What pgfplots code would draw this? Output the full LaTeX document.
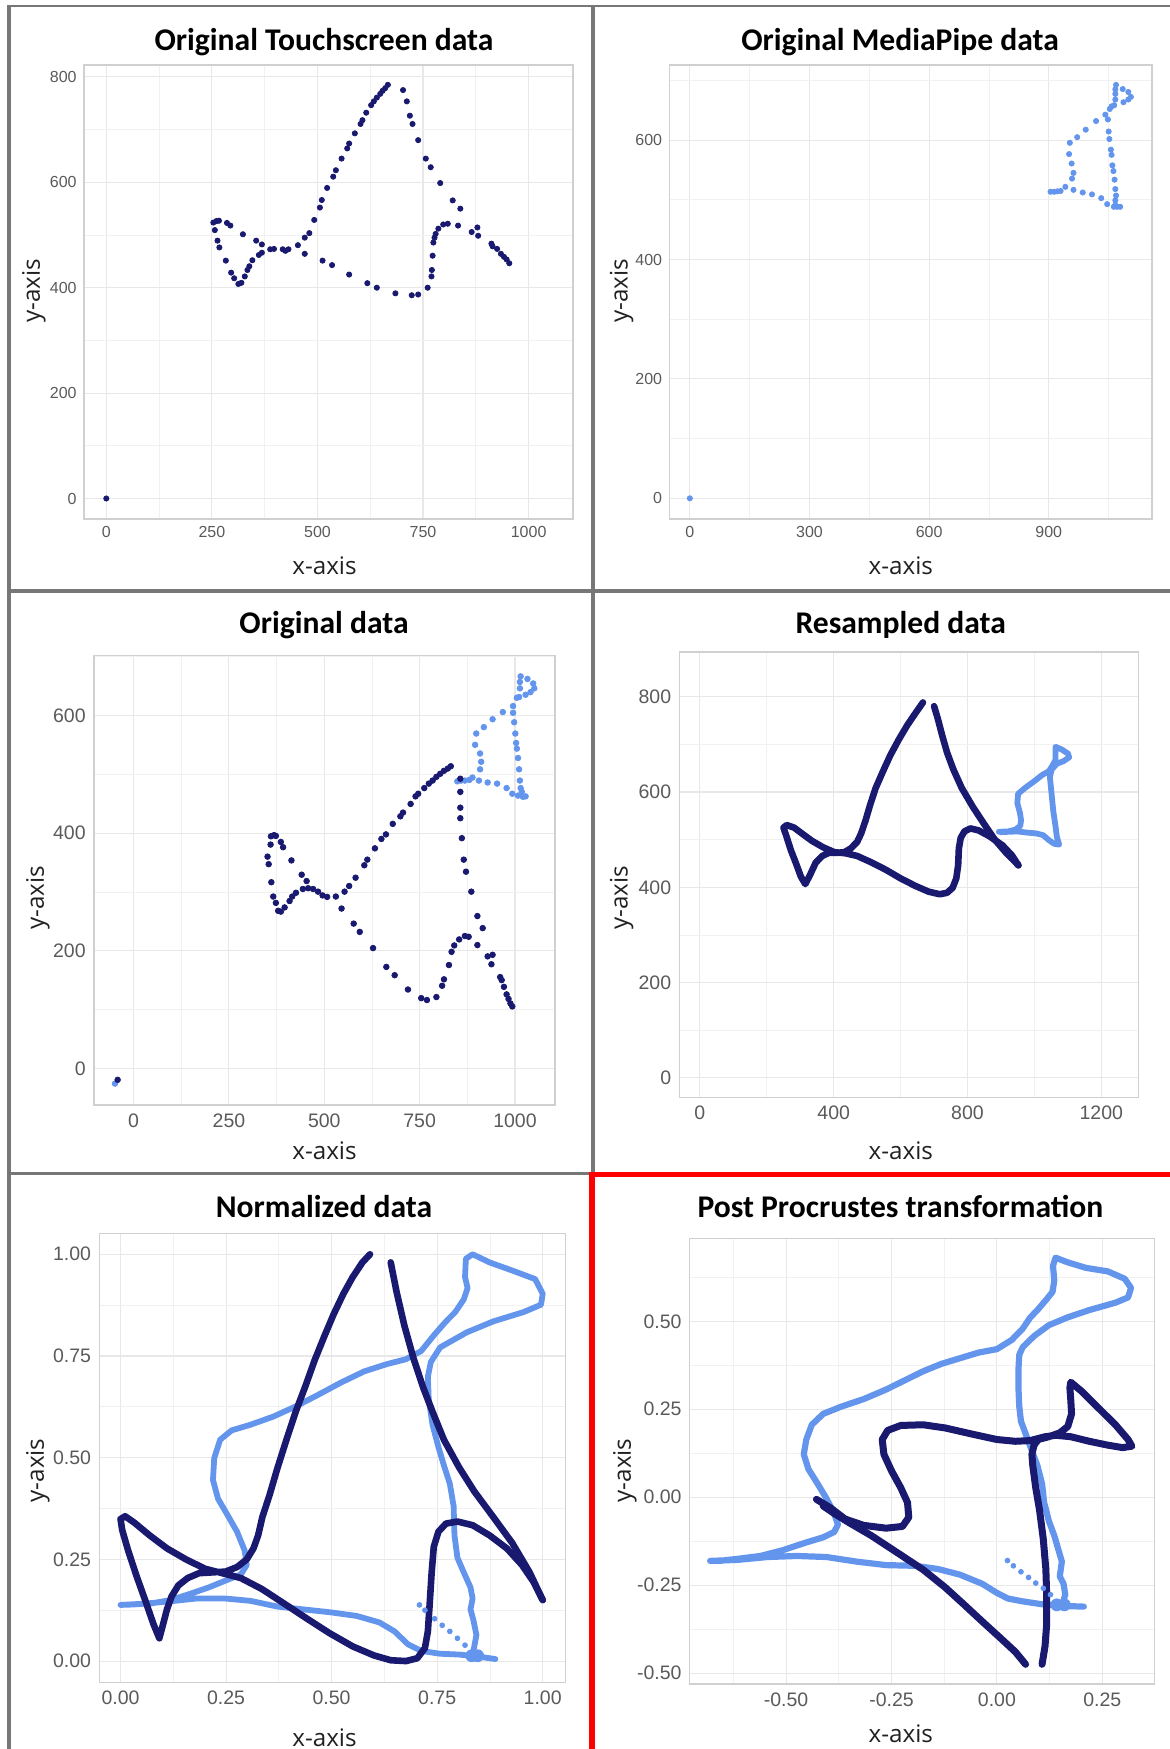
\documentclass[border=0pt]{standalone}
\usepackage{pgfplots}
\pgfplotsset{compat=1.18}
\usepackage{fontspec}
\setmainfont{Carlito}
\newfontfamily\labfont{Open Sans}
\newfontfamily\tickfont{Liberation Sans}
\definecolor{navy}{HTML}{191970}
\definecolor{cblue}{HTML}{6495ED}
\definecolor{gridmajor}{HTML}{E8E8E8}
\definecolor{gridminor}{HTML}{F1F1F1}
\definecolor{bordergray}{HTML}{D0D0D0}
\definecolor{tickgray}{HTML}{5A5A5A}
\definecolor{framegray}{HTML}{777777}
\pgfplotsset{
 panel/.style={scale only axis, anchor=south west, axis lines=box,
   axis line style={draw=bordergray,line width=0.55pt},
   grid=both, major grid style={draw=gridmajor,line width=0.55pt},
   minor grid style={draw=gridminor,line width=0.4pt},
   major tick length=0pt, minor tick length=0pt, tick style={draw=none}, clip=true},
 toprow/.style={
   xticklabel style={font=\tickfont\fontsize{8}{9}\selectfont, text=tickgray, inner sep=0pt, anchor=center, yshift=-6.3pt},
   yticklabel style={font=\tickfont\fontsize{8}{9}\selectfont, text=tickgray, inner sep=0pt, anchor=east, xshift=-3.5pt}},
 lowrow/.style={
   xticklabel style={font=\tickfont\fontsize{9.75}{11}\selectfont, text=tickgray, inner sep=0pt, anchor=center, yshift=-7.75pt},
   yticklabel style={font=\tickfont\fontsize{9.75}{11}\selectfont, text=tickgray, inner sep=0pt, anchor=east, xshift=-4pt}},
 dots/.style={only marks, mark=*, mark size=1.3pt},
 darkline/.style={navy, no marks, line width=3.3pt, line join=round, line cap=round},
 lightline/.style={cblue, no marks, line width=2.9pt, line join=round, line cap=round},
}
\begin{document}
\begin{tikzpicture}
\useasboundingbox (0,0) rectangle (585pt,-874.5pt);

% ---------- Panel 1: Original Touchscreen data
\begin{axis}[panel, toprow, at={(42pt,-259.5pt)}, width=244.5pt, height=227pt,
  xmin=-52.8, xmax=1105.1, ymin=-38.9, ymax=822.6,
  xtick={0,250,500,750,1000}, xticklabels={0,250,500,750,1000},
  minor xtick={125,375,625,875},
  ytick={0,200,400,600,800}, yticklabels={0,200,400,600,800},
  minor ytick={100,300,500,700}]
\addplot[dots, navy] coordinates {
(0,0)
(253.4,523.6)(260.6,526.4)(266.8,527.1)(257.0,509.3)(263.3,489.3)(267.7,476.4)(283.0,451.4)(295.6,428.6)(302.8,417.9)(312.7,407.1)(319.9,409.3)(327.9,421.4)(334.2,433.6)(338.7,440.7)(345.9,452.1)(361.2,462.1)(368.4,466.4)
(285.7,522.9)(293.8,517.9)(323.5,501.4)(354.9,489.3)(368.4,482.1)
(388.1,472.9)(397.1,473.6)(417.8,472.9)(424.1,470.0)(431.3,472.9)
(453.7,480.7)(469.9,495)(480.7,503.6)(492.4,528.6)(505.8,552.1)(510.3,566.4)(522.9,589.3)(537.3,610.7)(543.6,622.9)(557.1,645)(570.5,664.3)(575.0,673.6)(588.5,692.9)(602.0,710.7)(606.5,717.9)(615.5,732.1)(627.1,746.4)(633.4,753.6)(640.6,760.7)(648.7,767.9)(654.1,773.6)(660.4,778.6)(666.7,785)
(702.6,775)(711.6,753.6)(718.8,726.4)(725.1,710.7)(738.5,680)(756.5,645)(768.2,628.6)(790.7,598.6)(820.3,565.7)(838.3,550)
(469.9,464.3)(512.1,451.4)(534.6,442.9)(575.0,425)(618.1,408.6)(640.6,400)(684.6,389.3)(723.3,385.7)(738.5,387.1)(761.0,400)(770.0,421.4)(770.9,433.6)(772.7,460.7)(774.5,485.7)(777.2,495)(779.9,502.1)(786.2,512.1)(797.8,520)(808.6,521.4)(832.9,517.9)(865.2,505.7)(878.7,514.3)(880.5,498.6)(911.9,483.6)(914.6,478.6)(925.4,473.6)(934.4,464.3)(941.6,458.6)(947.9,453.6)(954.2,446.4)
};
\end{axis}

% ---------- Panel 2: Original MediaPipe data
\begin{axis}[panel, toprow, at={(334.75pt,-259.5pt)}, width=241.25pt, height=227pt,
  xmin=-51, xmax=1159, ymin=-34.7, ymax=726,
  xtick={0,300,600,900}, xticklabels={0,300,600,900},
  minor xtick={150,450,750,1050},
  ytick={0,200,400,600}, yticklabels={0,200,400,600},
  minor ytick={100,300,500,700}]
\addplot[dots, cblue] coordinates {
(0,0)
(904.6,513.6)(913.9,513.6)(921.3,514.3)(929.7,514.9)(941.7,521.8)(962.1,516.8)(985.3,512.4)(1008.5,509.2)(1031.7,502.9)(1046.6,492.8)
(958.4,535.7)(962.1,545.2)(957.5,560.9)(951.0,576.7)(952.9,595.6)(971.4,605)(992.8,617.6)(1018.7,632.1)(1041.9,642.8)(1053.1,652.3)(1057.7,656.7)(1064.2,658.6)(1067.0,668.1)(1067.0,677.5)(1067.0,685.1)(1068.8,692.6)(1085.5,685.7)(1099.5,680.7)(1106.0,672.5)(1099.5,668.1)(1087.4,663.6)
(1048.4,634.7)(1050.3,614.5)(1052.1,601.9)(1055.9,584.2)(1057.7,575.4)(1059.6,557.8)(1062.3,548.3)(1065.1,533.8)(1067.0,518.1)(1068.8,507.3)(1067.0,499.2)(1067.0,491.6)(1071.6,488.4)(1079.1,488.4)(1063.3,488.4)
};
\end{axis}

% ---------- Panel 3: Original data
\begin{axis}[panel, lowrow, at={(47pt,-552.5pt)}, width=230.5pt, height=224.65pt,
  xmin=-103.8, xmax=1105, ymin=-62, ymax=701.6,
  xtick={0,250,500,750,1000}, xticklabels={0,250,500,750,1000},
  minor xtick={125,375,625,875},
  ytick={0,200,400,600}, yticklabels={0,200,400,600},
  minor ytick={100,300,500,700}]
\addplot[dots, cblue, mark size=1.4pt] coordinates {
(-48.8,-25.6)
(848.8,488.1)(858.7,489.4)(868.7,489.4)(880.6,490.6)(888.6,494.5)(905.5,489.4)(928.4,486.1)(953.2,484.2)(978.1,476.6)(993.0,467.0)(1008.0,463.8)(1020.9,461.8)(1027.9,462.5)
(908.5,508.5)(911.4,521.3)(908.5,535.4)(895.5,550.1)(898.5,569.3)(918.4,580.2)(941.3,593.6)(968.2,605.8)(995.0,616.0)(1005.0,630.1)(1012.9,646.1)(1012.9,656.9)(1014.9,666.5)(1032.8,662.1)(1047.8,654.4)(1050.7,646.1)(1040.8,639.7)(1027.9,635.2)(1010.9,631.4)
(995.0,604.5)(998.0,588.5)(1001.0,569.3)(1003.0,553.3)(1005.0,543.7)(1008.0,527.7)(1010.9,508.5)(1012.9,489.4)(1014.9,476.6)(1017.9,470.2)
};
\addplot[dots, navy, mark size=1.4pt] coordinates {
(-41.8,-19.2)
(351.2,360.1)(354.2,347.3)(359.2,380.6)(360.2,394.7)(368.2,396.6)(373.1,395.3)(386.1,385.1)(392.0,376.1)(413.9,353.7)(440.8,329.4)(453.7,318.6)
(361.2,316.6)(366.2,292.3)(373.1,281.5)(379.1,268.0)(386.1,266.7)(396.0,273.8)(409.0,284.7)(415.9,292.3)(425.9,298.7)(443.8,305.1)(457.7,306.4)(470.6,305.1)(483.6,300.6)(495.5,294.2)(507.5,291.7)(530.3,292.3)
(545.3,271.9)(553.2,300.6)(565.2,310.2)(582.1,324.3)(605.0,345.4)(612.9,355.0)(632.8,374.2)(649.8,390.2)(661.7,397.9)(679.6,415.8)(699.5,428.6)(706.5,435.0)(726.4,449.7)(739.3,462.5)(746.3,467.0)(762.2,476.6)(774.1,484.2)(784.1,489.4)(794.0,495.7)(804.0,500.9)(813.9,506.0)(823.9,509.8)(831.8,513.7)
(856.7,492.5)(856.7,470.2)(856.7,443.3)(856.7,425.4)(860.7,391.5)(865.7,355.0)(871.6,334.5)(885.6,300.6)(901.5,259.1)(915.4,238.6)(928.4,190.6)(941.3,193.2)(938.3,177.2)(961.2,155.4)(965.2,150.3)(971.1,138.8)(978.1,126.0)(983.1,118.3)(988.1,110.7)(993.0,105.5)
(577.1,246.3)(593.0,232.2)(627.9,204.7)(662.7,172.7)(684.6,158.6)(719.4,134.3)(754.2,119.6)(769.2,116.4)(794.0,121.5)(809.0,140.7)(813.9,151.6)(826.9,175.9)(833.8,198.3)(840.8,209.2)(853.7,219.4)(868.7,225.2)(878.6,223.9)(901.5,209.8)
};
\end{axis}

% ---------- Panel 4: Resampled data
\begin{axis}[panel, lowrow, at={(339.75pt,-548.7pt)}, width=229.4pt, height=222.7pt,
  xmin=-60.8, xmax=1310.5, ymin=-41.1, ymax=894,
  xtick={0,400,800,1200}, xticklabels={0,400,800,1200},
  minor xtick={200,600,1000},
  ytick={0,200,400,600,800}, yticklabels={0,200,400,600,800},
  minor ytick={100,300,500,700}]
\addplot[lightline] coordinates {
(893.6,516.5)(921.3,517.3)(943.4,521.2)(957.8,529.1)(960.0,540.9)(956.6,556.7)(948.9,576.5)(951.1,596.2)(971.0,608.1)(998.7,622.3)(1023.0,635.7)(1042.9,643.6)(1054.0,655.5)(1062.8,667.3)(1062.8,683.1)(1062.8,694.9)(1081.6,689.4)(1100.4,680.7)(1103.7,672.8)(1087.2,664.9)(1067.2,659.4)(1051.8,647.6)(1046.2,631.8)(1050.7,600.2)(1056.2,560.7)(1062.8,529.1)(1067.2,505.4)(1073.9,489.6)(1059.5,491.2)(1042.9,499.1)(1026.3,509.4)(1004.2,513.3)(976.6,514.9)(948.9,517.3)(921.3,516.5)(899.1,515.7)
};
\addplot[darkline] coordinates {
(666.9,788.1)(644.8,766.0)(620.4,740.7)(595.0,710.7)(569.6,677.6)(547.4,643.6)(525.3,608.1)(508.7,572.5)(495.5,540.9)(482.2,513.3)(470.0,495.1)(451.2,481.7)(432.4,473.8)(407.0,472.2)(384.9,472.2)(366.1,465.9)(346.2,451.7)(329.6,426.4)(315.2,406.7)(301.9,422.5)(287.5,450.1)(272.1,477.8)(257.7,509.4)(249.9,525.2)(259.9,530.7)(282.0,525.2)(307.5,511.7)(335.1,497.5)(368.3,484.1)(401.5,473.8)(434.6,471.5)(470.0,465.9)(512.1,452.5)(556.3,436.7)(600.5,418.5)(644.8,402.7)(683.5,390.9)(716.7,385.4)(738.8,388.5)(755.4,398.8)(766.4,418.5)(772.0,446.2)(774.2,481.7)(779.7,503.8)(790.8,517.3)(808.5,523.6)(832.8,519.6)(866.0,507.0)(904.7,488.0)(932.3,467.5)(952.2,446.2)
};
\addplot[darkline] coordinates {
(700.1,780.2)(711.1,754.2)(724.4,718.6)(738.8,683.1)(757.6,647.6)(783.0,608.1)(816.2,568.6)(849.4,533.1)(882.6,499.1)(915.7,472.2)(952.2,446.2)
};
\end{axis}

% ---------- Panel 5: Normalized data
\begin{axis}[panel, lowrow, at={(49.7pt,-841.3pt)}, width=233.05pt, height=224.55pt,
  xmin=-0.050, xmax=1.054, ymin=-0.053, ymax=1.051,
  xtick={0,0.25,0.5,0.75,1}, xticklabels={0.00,0.25,0.50,0.75,1.00},
  minor xtick={0.125,0.375,0.625,0.875},
  ytick={0,0.25,0.5,0.75,1}, yticklabels={0.00,0.25,0.50,0.75,1.00},
  minor ytick={0.125,0.375,0.625,0.875}]
\addplot[lightline] coordinates {
(0.834,0.018)(0.838,0.036)(0.843,0.064)(0.836,0.100)(0.829,0.127)(0.834,0.154)(0.829,0.181)(0.813,0.218)(0.798,0.254)(0.791,0.309)(0.789,0.381)(0.780,0.436)(0.766,0.481)(0.753,0.526)(0.739,0.581)(0.730,0.644)(0.728,0.699)(0.735,0.735)(0.757,0.771)(0.820,0.808)(0.883,0.835)(0.955,0.858)(0.996,0.876)(1.0,0.903)(0.982,0.939)(0.928,0.960)(0.874,0.980)(0.834,1.0)(0.818,0.989)(0.816,0.944)(0.822,0.917)(0.813,0.889)(0.793,0.858)(0.771,0.835)(0.744,0.803)(0.712,0.762)(0.676,0.742)(0.631,0.730)(0.577,0.712)(0.523,0.685)(0.469,0.655)(0.415,0.626)(0.362,0.601)(0.308,0.581)(0.263,0.567)(0.236,0.544)(0.222,0.499)(0.219,0.445)(0.231,0.399)(0.254,0.358)(0.276,0.318)(0.294,0.272)(0.299,0.236)(0.285,0.213)(0.254,0.200)(0.209,0.181)(0.164,0.165)(0.119,0.150)(0.074,0.142)(0.029,0.139)(0.0,0.138)(0.056,0.141)(0.119,0.147)(0.182,0.154)(0.245,0.154)(0.308,0.148)(0.371,0.134)(0.433,0.127)(0.496,0.120)(0.559,0.111)(0.613,0.095)(0.649,0.073)(0.681,0.041)(0.712,0.025)(0.757,0.018)(0.802,0.016)(0.847,0.011)(0.888,0.005)
};
\addplot[cblue, only marks, mark=*, mark size=1.2pt] coordinates {
(0.708,0.138)(0.721,0.125)(0.744,0.104)(0.762,0.088)(0.780,0.073)(0.798,0.056)(0.816,0.039)
};
\addplot[cblue, only marks, mark=*, mark size=3pt] coordinates {(0.832,0.013)(0.846,0.013)};
\addplot[darkline] coordinates {
(0.591,1.0)(0.573,0.980)(0.550,0.944)(0.528,0.903)(0.505,0.853)(0.483,0.799)(0.460,0.740)(0.438,0.676)(0.415,0.613)(0.393,0.544)(0.371,0.472)(0.353,0.408)(0.336,0.354)(0.326,0.309)(0.315,0.277)(0.299,0.250)(0.276,0.231)(0.249,0.220)(0.218,0.218)(0.186,0.216)(0.159,0.204)(0.137,0.186)(0.121,0.159)(0.110,0.127)(0.101,0.091)(0.092,0.056)(0.078,0.091)(0.060,0.145)(0.038,0.209)(0.018,0.272)(0.004,0.322)(0.0,0.349)(0.011,0.356)(0.033,0.340)(0.069,0.309)(0.110,0.277)(0.155,0.250)(0.200,0.227)(0.245,0.215)(0.285,0.204)(0.335,0.177)(0.388,0.141)(0.442,0.104)(0.496,0.068)(0.550,0.036)(0.600,0.014)(0.640,0.002)(0.676,0.0)(0.703,0.007)(0.721,0.032)(0.728,0.073)(0.732,0.136)(0.737,0.218)(0.742,0.281)(0.753,0.318)(0.771,0.338)(0.798,0.343)(0.834,0.334)(0.874,0.309)(0.915,0.277)(0.951,0.236)(0.978,0.195)(1.0,0.150)
};
\addplot[darkline] coordinates {
(0.640,0.980)(0.654,0.907)(0.672,0.826)(0.694,0.744)(0.717,0.672)(0.739,0.613)(0.766,0.544)(0.802,0.476)(0.838,0.417)(0.883,0.354)(0.928,0.290)(0.969,0.218)(1.0,0.150)
};
\end{axis}

% ---------- Panel 6: Post Procrustes transformation
\begin{axis}[panel, lowrow, at={(344.95pt,-842pt)}, width=232.15pt, height=222.85pt,
  xmin=-0.728, xmax=0.373, ymin=-0.531, ymax=0.736,
  xtick={-0.5,-0.25,0,0.25}, xticklabels={-0.50,-0.25,0.00,0.25},
  minor xtick={-0.625,-0.375,-0.125,0.125},
  ytick={-0.5,-0.25,0,0.25,0.5}, yticklabels={-0.50,-0.25,0.00,0.25,0.50},
  minor ytick={-0.375,-0.125,0.125,0.375,0.625}]
\addplot[lightline, line width=3.1pt] coordinates {
(0.154,-0.309)(0.162,-0.277)(0.158,-0.246)(0.149,-0.225)(0.154,-0.183)(0.145,-0.146)(0.136,-0.109)(0.123,-0.067)(0.112,-0.015)(0.107,0.038)(0.096,0.090)(0.083,0.132)(0.070,0.174)(0.057,0.216)(0.053,0.258)(0.051,0.311)(0.051,0.363)(0.053,0.405)(0.061,0.426)(0.088,0.458)(0.123,0.489)(0.167,0.511)(0.219,0.532)(0.281,0.553)(0.311,0.568)(0.318,0.595)(0.303,0.621)(0.263,0.642)(0.211,0.652)(0.167,0.668)(0.139,0.681)(0.133,0.658)(0.136,0.616)(0.132,0.584)(0.118,0.563)(0.096,0.532)(0.079,0.511)(0.061,0.479)(0.035,0.447)(0.0,0.421)(-0.044,0.411)(-0.088,0.395)(-0.132,0.379)(-0.175,0.358)(-0.219,0.332)(-0.263,0.306)(-0.316,0.279)(-0.368,0.258)(-0.412,0.237)(-0.439,0.206)(-0.452,0.164)(-0.458,0.122)(-0.447,0.080)(-0.425,0.038)(-0.404,-0.004)(-0.386,-0.046)(-0.377,-0.078)(-0.386,-0.099)(-0.412,-0.114)(-0.456,-0.130)(-0.509,-0.151)(-0.561,-0.167)(-0.614,-0.175)(-0.658,-0.181)(-0.680,-0.181)(-0.614,-0.178)(-0.544,-0.170)(-0.474,-0.167)(-0.404,-0.170)(-0.333,-0.183)(-0.263,-0.193)(-0.193,-0.195)(-0.140,-0.204)(-0.088,-0.220)(-0.035,-0.246)(0.0,-0.272)(0.026,-0.288)(0.061,-0.296)(0.105,-0.304)(0.158,-0.309)(0.206,-0.311)
};
\addplot[cblue, only marks, mark=*, mark size=1.2pt] coordinates {
(0.025,-0.180)(0.039,-0.195)(0.057,-0.212)(0.075,-0.228)(0.092,-0.244)(0.110,-0.259)(0.127,-0.277)
};
\addplot[cblue, only marks, mark=*, mark size=3pt] coordinates {(0.142,-0.306)(0.160,-0.306)};
\addplot[darkline, line width=3.5pt] coordinates {
(0.107,-0.475)(0.114,-0.424)(0.118,-0.361)(0.118,-0.277)(0.116,-0.204)(0.110,-0.120)(0.101,-0.036)(0.092,0.027)(0.085,0.090)(0.083,0.122)(0.088,0.148)(0.098,0.164)(0.123,0.172)(0.149,0.183)(0.168,0.201)(0.177,0.237)(0.175,0.279)(0.173,0.311)(0.175,0.327)(0.202,0.300)(0.237,0.258)(0.281,0.206)(0.311,0.164)(0.320,0.145)(0.298,0.141)(0.263,0.148)(0.219,0.159)(0.175,0.172)(0.140,0.176)(0.114,0.172)(0.079,0.161)(0.044,0.159)(0.0,0.164)(-0.061,0.180)(-0.123,0.197)(-0.175,0.206)(-0.228,0.204)(-0.259,0.190)(-0.272,0.164)(-0.268,0.122)(-0.250,0.075)(-0.228,0.027)(-0.212,-0.015)(-0.209,-0.057)(-0.224,-0.083)(-0.263,-0.088)(-0.316,-0.080)(-0.360,-0.062)(-0.395,-0.030)(-0.428,-0.006)
};
\addplot[darkline, line width=3.5pt] coordinates {
(0.068,-0.475)(0.044,-0.440)(0.009,-0.401)(-0.035,-0.353)(-0.079,-0.304)(-0.123,-0.256)(-0.175,-0.206)(-0.237,-0.157)(-0.298,-0.109)(-0.351,-0.072)(-0.386,-0.046)(-0.412,-0.025)
};
\end{axis}

% ---------- titles
\begin{scope}[every node/.style={font=\fontsize{15.8}{18}\selectfont\bfseries, anchor=base, inner sep=0pt}]
\node at (162pt,-25.25pt) {Original Touchscreen data};
\node at (450pt,-25.25pt) {Original MediaPipe data};
\node at (162pt,-316.75pt) {Original data};
\node at (450.35pt,-316.75pt) {Resampled data};
\node at (162pt,-608.5pt) {Normalized data};
\node at (450.2pt,-608.5pt) {Post Procrustes transformation};
\end{scope}
% ---------- axis labels
\begin{scope}[every node/.style={font=\labfont\fontsize{12.1}{14}\selectfont, text={black!87}, inner sep=0pt}]
\node[anchor=base] at (162.25pt,-287.3pt) {x-axis};
\node[anchor=base] at (450.4pt,-287.15pt) {x-axis};
\node[anchor=base] at (162.25pt,-579.5pt) {x-axis};
\node[anchor=base] at (450.4pt,-579.5pt) {x-axis};
\node[anchor=base] at (162.25pt,-873.3pt) {x-axis};
\node[anchor=base] at (450.4pt,-871.3pt) {x-axis};
\node[rotate=90] at (17pt,-145.5pt) {y-axis};
\node[rotate=90] at (310.8pt,-145.5pt) {y-axis};
\node[rotate=90] at (19pt,-449pt) {y-axis};
\node[rotate=90] at (310.8pt,-449pt) {y-axis};
\node[rotate=90] at (19pt,-735.25pt) {y-axis};
\node[rotate=90] at (312.5pt,-735.25pt) {y-axis};
\end{scope}
% ---------- frame lines
\draw[framegray, line width=1.15pt] (3.7pt,-3.1pt) -- (585pt,-3.1pt);
\draw[framegray, line width=1.65pt] (4.5pt,-2.5pt) -- (4.5pt,-874.5pt);
\draw[framegray, line width=1.7pt] (296.4pt,-2.5pt) -- (296.4pt,-586pt);
\draw[framegray, line width=1.7pt] (3.7pt,-295.4pt) -- (585pt,-295.4pt);
\draw[framegray, line width=1.4pt] (3.7pt,-586.65pt) -- (295pt,-586.65pt);
\draw[red, line width=2.65pt] (294.65pt,-587.35pt) -- (585pt,-587.35pt);
\draw[red, line width=2.7pt] (296pt,-586pt) -- (296pt,-874.5pt);
\end{tikzpicture}
\end{document}
